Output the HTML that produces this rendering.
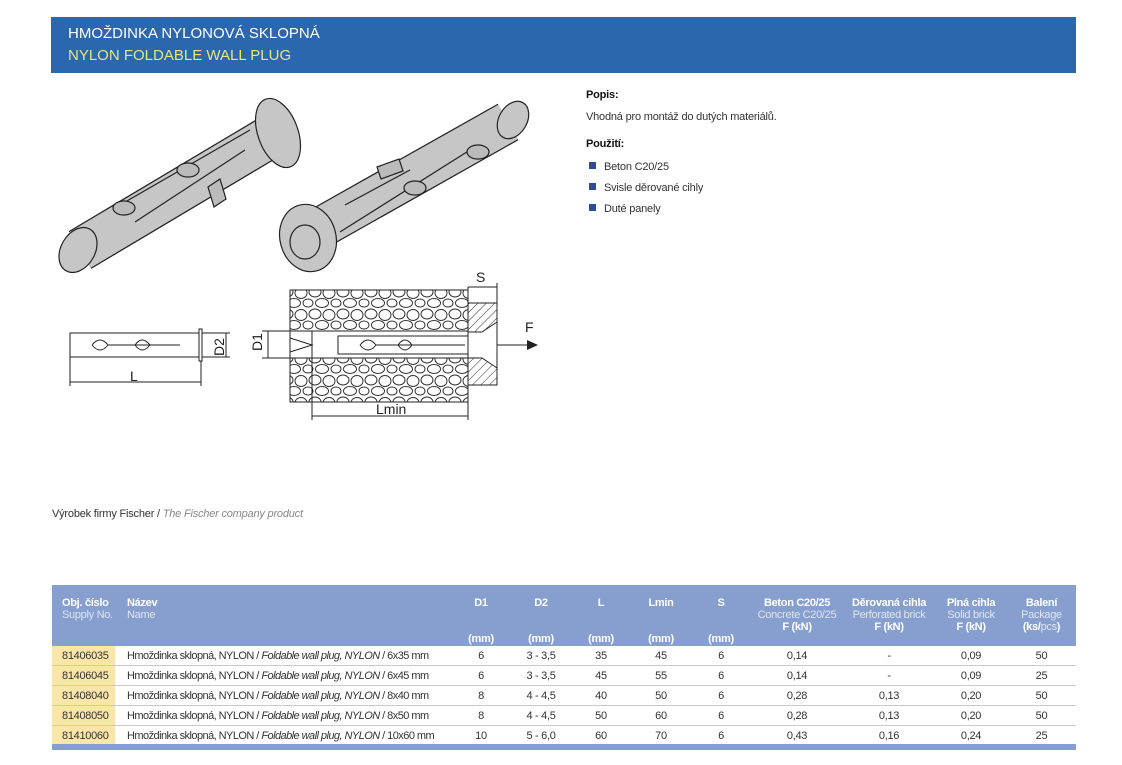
<!DOCTYPE html>
<html><head><meta charset="utf-8"><style>
body{margin:0;width:1122px;height:765px;background:#fff;position:relative;overflow:hidden;font-family:"Liberation Sans",sans-serif;color:#333}
.hdr{position:absolute;left:51px;top:17px;width:1025px;height:56px;background:#2a67ae}
.hdr div{position:absolute;left:17px;font-size:15px}
.t{position:absolute;font-size:11px;white-space:nowrap;letter-spacing:-0.2px}
table{position:absolute;left:52px;top:585px;width:1024px;border-collapse:collapse;font-size:11px;letter-spacing:-0.3px;table-layout:fixed}
th{background:#869fcf;color:#fff;font-weight:bold;vertical-align:top;padding:0;line-height:12px;white-space:nowrap;overflow:hidden;font-size:11px}
th .s{color:#dfe6f3;font-weight:normal}
td{height:19px;padding:0;border-bottom:1px solid #c9c9c9;text-align:center;line-height:18px;color:#333;white-space:nowrap;overflow:hidden}
td.y{background:#fbe6a9;text-align:left;padding-left:10px}
td.n{text-align:left;padding-left:12px;letter-spacing:-0.55px}
.bar{position:absolute;left:52px;top:744px;width:1024px;height:6px;background:#869fcf}
.sq{display:inline-block;width:7px;height:7px;background:#2e4c97;margin-right:8px;vertical-align:1px}
</style></head><body>
<div class="hdr"><div style="top:8px;color:#fff">HMOŽDINKA NYLONOVÁ SKLOPNÁ</div><div style="top:30px;color:#e8e77a">NYLON FOLDABLE WALL PLUG</div></div>

<svg style="position:absolute;left:0;top:0" width="1122" height="560">
<defs>
<pattern id="st" width="28" height="22" patternUnits="userSpaceOnUse">
<rect width="28" height="22" fill="#fff"/>
<ellipse cx="7" cy="6" rx="6" ry="5" fill="none" stroke="#333" stroke-width="1"/>
<ellipse cx="21" cy="7" rx="6" ry="5.5" fill="none" stroke="#333" stroke-width="1"/>
<ellipse cx="14" cy="17" rx="6.5" ry="4.5" fill="none" stroke="#333" stroke-width="1"/>
<ellipse cx="0" cy="17" rx="5" ry="4" fill="none" stroke="#333" stroke-width="1"/>
<ellipse cx="28" cy="17" rx="5" ry="4" fill="none" stroke="#333" stroke-width="1"/>
</pattern>
<pattern id="ht" width="6" height="6" patternUnits="userSpaceOnUse" patternTransform="rotate(45)">
<rect width="6" height="6" fill="#fff"/><line x1="0" y1="0" x2="0" y2="6" stroke="#333" stroke-width="1"/>
</pattern>
</defs>
<g stroke="#222" stroke-width="1.2">
<line x1="80" y1="250" x2="268" y2="138" stroke="#222" stroke-width="44"/>
<line x1="80" y1="250" x2="268" y2="138" stroke="#c6c6c6" stroke-width="41.5"/>
<ellipse cx="78" cy="250" rx="17" ry="24" transform="rotate(30 78 250)" fill="#c6c6c6"/>
<ellipse cx="278" cy="133" rx="20" ry="36" transform="rotate(-20 278 133)" fill="#c6c6c6"/>
<path d="M120 205 L250 130 M135 222 L245 150" fill="none"/>
<path d="M208 187 l12 -8 l6 20 l-12 8z" fill="#bbb"/>
<ellipse cx="124" cy="208" rx="11" ry="7" fill="#bbb"/>
<ellipse cx="188" cy="170" rx="11" ry="7" fill="#bbb"/>
<line x1="320" y1="228" x2="508" y2="122" stroke="#222" stroke-width="42"/>
<line x1="320" y1="228" x2="508" y2="122" stroke="#c6c6c6" stroke-width="39.5"/>
<ellipse cx="513" cy="120" rx="14" ry="20" transform="rotate(30 513 120)" fill="#c6c6c6"/>
<ellipse cx="308" cy="238" rx="28" ry="34" transform="rotate(-15 308 238)" fill="#c6c6c6"/>
<ellipse cx="305" cy="242" rx="15" ry="17" fill="#c6c6c6"/>
<path d="M340 232 L470 150 M345 205 L410 170" fill="none"/>
<path d="M377 167 l22 -8 l4 12 l-22 8z" fill="#bbb"/>
<ellipse cx="415" cy="188" rx="11" ry="7" fill="#bbb"/>
<ellipse cx="478" cy="152" rx="11" ry="7" fill="#bbb"/>
</g>
<g stroke="#222" stroke-width="1" fill="none">
<rect x="70" y="333" width="130" height="24" fill="#fff"/>
<rect x="199" y="329" width="3" height="32" fill="#fff"/>
<path d="M92 345 Q100 335 108 345 Q100 355 92 345 M108 345 L180 345 M135 345 Q142 335 150 345 Q142 355 135 345"/>
<line x1="70" y1="357" x2="70" y2="386"/><line x1="201" y1="361" x2="201" y2="386"/>
<line x1="70" y1="382" x2="201" y2="382"/>
<line x1="202" y1="333" x2="230" y2="333"/><line x1="202" y1="357" x2="230" y2="357"/>
<line x1="226" y1="333" x2="226" y2="357"/>
<rect x="290" y="290" width="178" height="112" fill="url(#st)"/>
<rect x="312" y="331" width="156" height="27" fill="#fff"/>
<rect x="290" y="331" width="22" height="27" fill="#fff"/>
<path d="M290 331 L468 331 M290 358 L468 358 M290 338 L312 345 L290 352"/>
<rect x="338" y="336" width="130" height="18" fill="#fff"/>
<path d="M360 345 Q368 335 376 345 Q368 355 360 345 M376 345 L465 345 M398 345 Q405 335 412 345 Q405 355 398 345"/>
<rect x="468" y="303" width="29" height="82" fill="url(#ht)"/>
<path d="M468 332 L482 332 L497 322 L497 368 L482 358 L468 358Z" fill="#fff"/>
<line x1="468" y1="287" x2="468" y2="303"/><line x1="497" y1="283" x2="497" y2="303"/>
<line x1="468" y1="287" x2="497" y2="287"/>
<line x1="497" y1="345" x2="528" y2="345"/>
<line x1="262" y1="331" x2="290" y2="331"/><line x1="262" y1="358" x2="290" y2="358"/>
<line x1="268" y1="331" x2="268" y2="358"/>
<line x1="312" y1="358" x2="312" y2="420"/><line x1="468" y1="385" x2="468" y2="420"/>
<line x1="312" y1="416" x2="468" y2="416"/>
</g>
<path d="M527 340 L538 345 L527 350Z" fill="#222"/>
<g font-family="Liberation Sans,sans-serif" font-size="14" fill="#222">
<text x="130" y="381">L</text>
<text x="224" y="356" transform="rotate(-90 224 356)">D2</text>
<text x="266" y="355" transform="rotate(-90 262 355)">D1</text>
<text x="476" y="282">S</text>
<text x="525" y="332">F</text>
<text x="376" y="414">Lmin</text>
</g>
</svg>

<div class="t" style="left:586px;top:89px;font-weight:bold;color:#111">Popis:</div>
<div class="t" style="left:586px;top:111px">Vhodná pro montáž do dutých materiálů.</div>
<div class="t" style="left:586px;top:138px;font-weight:bold;color:#111">Použití:</div>
<div class="t" style="left:589px;top:161px"><span class="sq"></span>Beton C20/25</div>
<div class="t" style="left:589px;top:182px"><span class="sq"></span>Svisle děrované cihly</div>
<div class="t" style="left:589px;top:203px"><span class="sq"></span>Duté panely</div>
<div class="t" style="left:52px;top:508px">Výrobek firmy Fischer / <i style="color:#888">The Fischer company product</i></div>

<table>
<colgroup><col style="width:63px"><col style="width:336px"><col style="width:60px"><col style="width:60px"><col style="width:60px"><col style="width:60px"><col style="width:60px"><col style="width:92px"><col style="width:92px"><col style="width:72px"><col></colgroup>
<tr style="height:61px">
<th style="text-align:left;padding:12px 0 0 10px">Obj. číslo<br><span class="s">Supply No.</span></th>
<th style="text-align:left;padding:12px 0 0 12px">Název<br><span class="s">Name</span></th>
<th style="padding-top:12px">D1<br><br><br>(mm)</th>
<th style="padding-top:12px">D2<br><br><br>(mm)</th>
<th style="padding-top:12px">L<br><br><br>(mm)</th>
<th style="padding-top:12px">Lmin<br><br><br>(mm)</th>
<th style="padding-top:12px">S<br><br><br>(mm)</th>
<th style="padding-top:12px">Beton C20/25<br><span class="s">Concrete C20/25</span><br>F (kN)</th>
<th style="padding-top:12px">Děrovaná cihla<br><span class="s">Perforated brick</span><br>F (kN)</th>
<th style="padding-top:12px">Plná cihla<br><span class="s">Solid brick</span><br>F (kN)</th>
<th style="padding-top:12px">Balení<br><span class="s">Package</span><br>(ks/<span class="s">pcs</span>)</th>
</tr>
<tr><td class="y">81406035</td><td class="n">Hmoždinka sklopná, NYLON / <i>Foldable wall plug, NYLON</i> / 6x35 mm</td><td>6</td><td>3 - 3,5</td><td>35</td><td>45</td><td>6</td><td>0,14</td><td>-</td><td>0,09</td><td>50</td></tr>
<tr><td class="y">81406045</td><td class="n">Hmoždinka sklopná, NYLON / <i>Foldable wall plug, NYLON</i> / 6x45 mm</td><td>6</td><td>3 - 3,5</td><td>45</td><td>55</td><td>6</td><td>0,14</td><td>-</td><td>0,09</td><td>25</td></tr>
<tr><td class="y">81408040</td><td class="n">Hmoždinka sklopná, NYLON / <i>Foldable wall plug, NYLON</i> / 8x40 mm</td><td>8</td><td>4 - 4,5</td><td>40</td><td>50</td><td>6</td><td>0,28</td><td>0,13</td><td>0,20</td><td>50</td></tr>
<tr><td class="y">81408050</td><td class="n">Hmoždinka sklopná, NYLON / <i>Foldable wall plug, NYLON</i> / 8x50 mm</td><td>8</td><td>4 - 4,5</td><td>50</td><td>60</td><td>6</td><td>0,28</td><td>0,13</td><td>0,20</td><td>50</td></tr>
<tr><td class="y">81410060</td><td class="n">Hmoždinka sklopná, NYLON / <i>Foldable wall plug, NYLON</i> / 10x60 mm</td><td>10</td><td>5 - 6,0</td><td>60</td><td>70</td><td>6</td><td>0,43</td><td>0,16</td><td>0,24</td><td>25</td></tr>
</table>
<div class="bar"></div>
</body></html>
